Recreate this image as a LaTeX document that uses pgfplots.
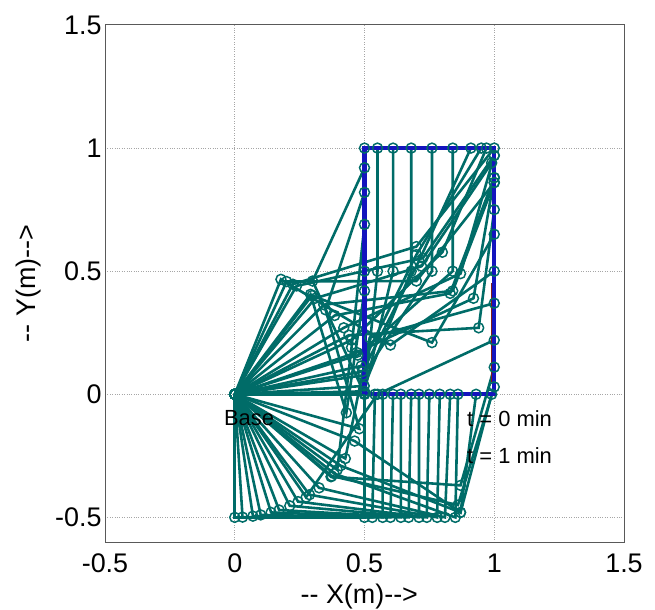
\documentclass[border=0pt]{standalone}
\usepackage{fontspec}
\setmainfont{Liberation Sans}
\usepackage{pgfplots}
\pgfplotsset{compat=1.18}
\definecolor{armcol}{RGB}{0,108,104}
\definecolor{rectcol}{RGB}{20,20,190}
\definecolor{tracecol}{RGB}{130,30,20}
\tikzset{armstyle/.style={draw=armcol, line width=2.6pt, mark=o, mark size=5pt,
    mark options={draw=armcol, line width=1.5pt, solid}}}
\begin{document}
\begin{tikzpicture}
\useasboundingbox (-105bp,-68bp) rectangle (550bp,542bp);
\begin{axis}[at={(0,0)}, anchor=south west, scale only axis,
  width=519bp, height=517bp,
  xmin=-0.5, xmax=1.5, ymin=-0.6, ymax=1.5,
  xtick={-0.5,0,0.5,1,1.5}, ytick={-0.5,0,0.5,1,1.5},
  grid=major, major grid style={gray!70, dotted, line width=1pt},
  major tick length=0pt,
  axis line style={black!65, line width=1pt},
  /pgf/number format/assume math mode=true,
  tick label style={font=\fontsize{27}{30}\selectfont},
  xticklabel style={yshift=-8bp},
  xlabel={-{}- X(m)-{}->}, ylabel={-{}- Y(m)-{}->},
  label style={font=\fontsize{27}{30}\selectfont},
  xlabel style={at={(axis description cs:0.49,-0.106)}, anchor=center},
  ylabel style={at={(axis description cs:-0.148,0.5)}, anchor=center},
  clip=false,
]
% bottom edge of the path
\addplot[armstyle] coordinates {(0,0)(0,-0.5)(0.5,-0.5)(0.5,0)};
\addplot[armstyle] coordinates {(0,0)(0.07,-0.495)(0.57,-0.5)(0.57,0)};
\addplot[armstyle] coordinates {(0,0)(0.14,-0.48)(0.64,-0.5)(0.64,0)};
\addplot[armstyle] coordinates {(0,0)(0.212,-0.453)(0.71,-0.5)(0.71,0)};
\addplot[armstyle] coordinates {(0,0)(0.288,-0.408)(0.78,-0.5)(0.79,0)};
\addplot[armstyle] coordinates {(0,0)(0.383,-0.322)(0.85,-0.5)(0.86,0)};
\addplot[armstyle] coordinates {(0,0)(0.408,-0.29)(0.87,-0.48)(0.93,0)};
\addplot[armstyle] coordinates {(0,0)(0.462,-0.19)(0.87,-0.48)(0.99,0)};
\addplot[armstyle] coordinates {(0,0)(0.03,-0.499)(0.53,-0.5)(0.54,0)};
\addplot[armstyle] coordinates {(0,0)(0.1,-0.49)(0.6,-0.5)(0.61,0)};
\addplot[armstyle] coordinates {(0,0)(0.171,-0.47)(0.67,-0.5)(0.68,0)};
\addplot[armstyle] coordinates {(0,0)(0.244,-0.436)(0.74,-0.5)(0.75,0)};
\addplot[armstyle] coordinates {(0,0)(0.325,-0.38)(0.81,-0.5)(0.83,0)};
% right edge of the path
\addplot[armstyle] coordinates {(0,0)(0.238,0.44)(0.725,0.553)(1,0.97)};
\addplot[armstyle] coordinates {(0,0)(0.343,0.364)(0.84,0.42)(1,0.86)};
\addplot[armstyle] coordinates {(0,0)(0.298,0.401)(0.76,0.21)(1,0.65)};
\addplot[armstyle] coordinates {(0,0)(0.178,0.467)(0.6,0.2)(1,0.5)};
\addplot[armstyle] coordinates {(0,0)(0.426,-0.261)(0.52,0.23)(1,0.37)};
\addplot[armstyle] coordinates {(0,0)(0.275,-0.418)(0.55,0.0)(1,0.22)};
\addplot[armstyle] coordinates {(0,0)(0.371,-0.335)(0.87,-0.37)(1,0.11)};
\addplot[armstyle] coordinates {(0,0)(0.374,-0.332)(0.86,-0.45)(1,0.03)};
\addplot[armstyle] coordinates {(0,0)(0.42,0.27)(0.87,0.49)(1,0.97)};
\addplot[armstyle] coordinates {(0,0)(0.45,0.22)(0.8,0.577)(0.97,1)};
\addplot[armstyle] coordinates {(0,0)(0.385,0.32)(0.83,0.41)(1,0.88)};
\addplot[armstyle] coordinates {(0,0)(0.2,0.458)(0.7,0.46)(1,0.86)};
\addplot[armstyle] coordinates {(0,0)(0.44,0.24)(0.94,0.27)(1,0.75)};
\addplot[armstyle] coordinates {(0,0)(0.47,0.17)(0.92,0.39)(1,0.88)};
\addplot[armstyle] coordinates {(0,0)(0.31,0.39)(0.72,0.52)(0.99,0.94)};
% top edge of the path
\addplot[armstyle] coordinates {(0,0)(0.5,0)(0.5,0.5)(0.5,1)};
\addplot[armstyle] coordinates {(0,0)(0.5,0.003)(0.55,0.5)(0.55,1)};
\addplot[armstyle] coordinates {(0,0)(0.5,0.012)(0.61,0.5)(0.61,1)};
\addplot[armstyle] coordinates {(0,0)(0.499,0.034)(0.68,0.5)(0.68,1)};
\addplot[armstyle] coordinates {(0,0)(0.494,0.077)(0.76,0.5)(0.76,1)};
\addplot[armstyle] coordinates {(0,0)(0.474,0.159)(0.84,0.5)(0.84,1)};
\addplot[armstyle] coordinates {(0,0)(0.492,0.092)(0.71,0.542)(0.91,1)};
\addplot[armstyle] coordinates {(0,0)(0.487,0.115)(0.7,0.567)(0.95,1)};
\addplot[armstyle] coordinates {(0,0)(0.224,0.447)(0.7,0.6)(1,1)};
% left edge of the path
\addplot[armstyle] coordinates {(0,0)(0.5,0.002)(0.3,0.46)(0.5,0.92)};
\addplot[armstyle] coordinates {(0,0)(0.48,-0.14)(0.35,0.343)(0.5,0.82)};
\addplot[armstyle] coordinates {(0,0)(0.395,-0.307)(0.45,0.19)(0.5,0.69)};
\addplot[armstyle] coordinates {(0,0)(0.292,0.406)(0.43,-0.075)(0.5,0.42)};
% desired path and traced segment
\addplot[draw=rectcol, line width=4.2pt, mark=none] coordinates {(0.5,0)(0.5,1)(1,1)(1,0)(0.5,0)};
\addplot[draw=tracecol, line width=1.6pt, mark=none] coordinates {(0.99,0.05)(0.99,0.45)};
\node[font=\fontsize{22}{24}\selectfont, text=black] at (axis cs:0.055,-0.098) {Base};
\node[font=\fontsize{22}{24}\selectfont, text=black, anchor=west, inner sep=0pt] at (axis cs:0.895,-0.098) {t = 0 min};
\node[font=\fontsize{22}{24}\selectfont, text=black, anchor=west, inner sep=0pt] at (axis cs:0.895,-0.25) {t = 1 min};
\end{axis}
\end{tikzpicture}
\end{document}
